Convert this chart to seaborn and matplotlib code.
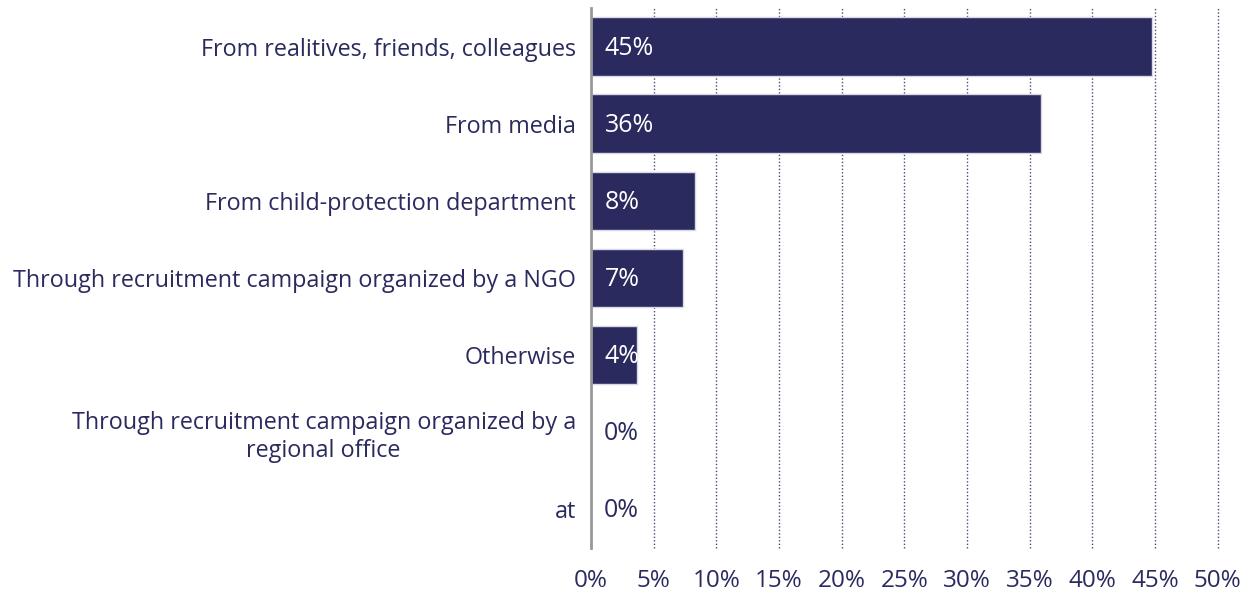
import matplotlib
matplotlib.use("Agg")
import matplotlib.pyplot as plt
import seaborn as sns
import pandas as pd

# data
categories = [
    "From realitives, friends, colleagues",
    "From media",
    "From child-protection department",
    "Through recruitment campaign organized by a NGO",
    "Otherwise",
    "Through recruitment campaign organized by a\nregional office",
    "at",
]
values = [44.8, 35.9, 8.3, 7.3, 3.7, 0.0, 0.0]
xticks = [0, 5, 10, 15, 20, 25, 30, 35, 40, 45, 50]

navy = "#2a2a5f"

sns.set_style("white")
plt.rcParams["font.family"] = ["Open Sans", "DejaVu Sans"]

df = pd.DataFrame({"cat": categories, "val": values})

fig = plt.figure(figsize=(12.53, 5.98), dpi=100)
ax = fig.add_axes([0.4717, 0.0836, 0.5001, 0.903])

sns.barplot(data=df, x="val", y="cat", orient="h", color=navy, saturation=1,
            width=0.76, edgecolor="#d8d8e6", linewidth=1, ax=ax, zorder=2)

ax.set_xlim(0, 50)
ax.set_ylim(6.5, -0.5)
ax.set_xticks(xticks)
ax.set_xticklabels([f"{t}%" for t in xticks])
ax.set_xlabel("")
ax.set_ylabel("")

# dotted vertical grid
for t in xticks[1:]:
    ax.axvline(t, color=navy, linestyle=(0, (1, 1.5)), linewidth=1, alpha=0.85,
               zorder=1, clip_on=False)

for side in ["top", "right", "bottom"]:
    ax.spines[side].set_visible(False)
ax.spines["left"].set_color("#999999")
ax.spines["left"].set_linewidth(2)
ax.spines["left"].set_zorder(3)

ax.tick_params(axis="x", length=0, pad=15, labelsize=17.5, colors=navy)
ax.tick_params(axis="y", length=0, pad=11, labelsize=16.8, colors=navy)
for lab in ax.get_yticklabels():
    lab.set_multialignment("center")

# value labels, white inside bars, clipped to the bar
for bar, v in zip(ax.patches, values):
    y = bar.get_y() + bar.get_height() / 2
    if v > 0:
        txt = ax.text(1.1, y + 0.02, f"{v:.0f}%", color="white", fontsize=18,
                      va="center", ha="left", zorder=4)
        txt.set_clip_path(bar)
    else:
        ax.text(1.0, y + 0.02, "0%", color=navy, fontsize=18, va="center", ha="left", zorder=4)

fig.savefig("out.png", dpi=100)
